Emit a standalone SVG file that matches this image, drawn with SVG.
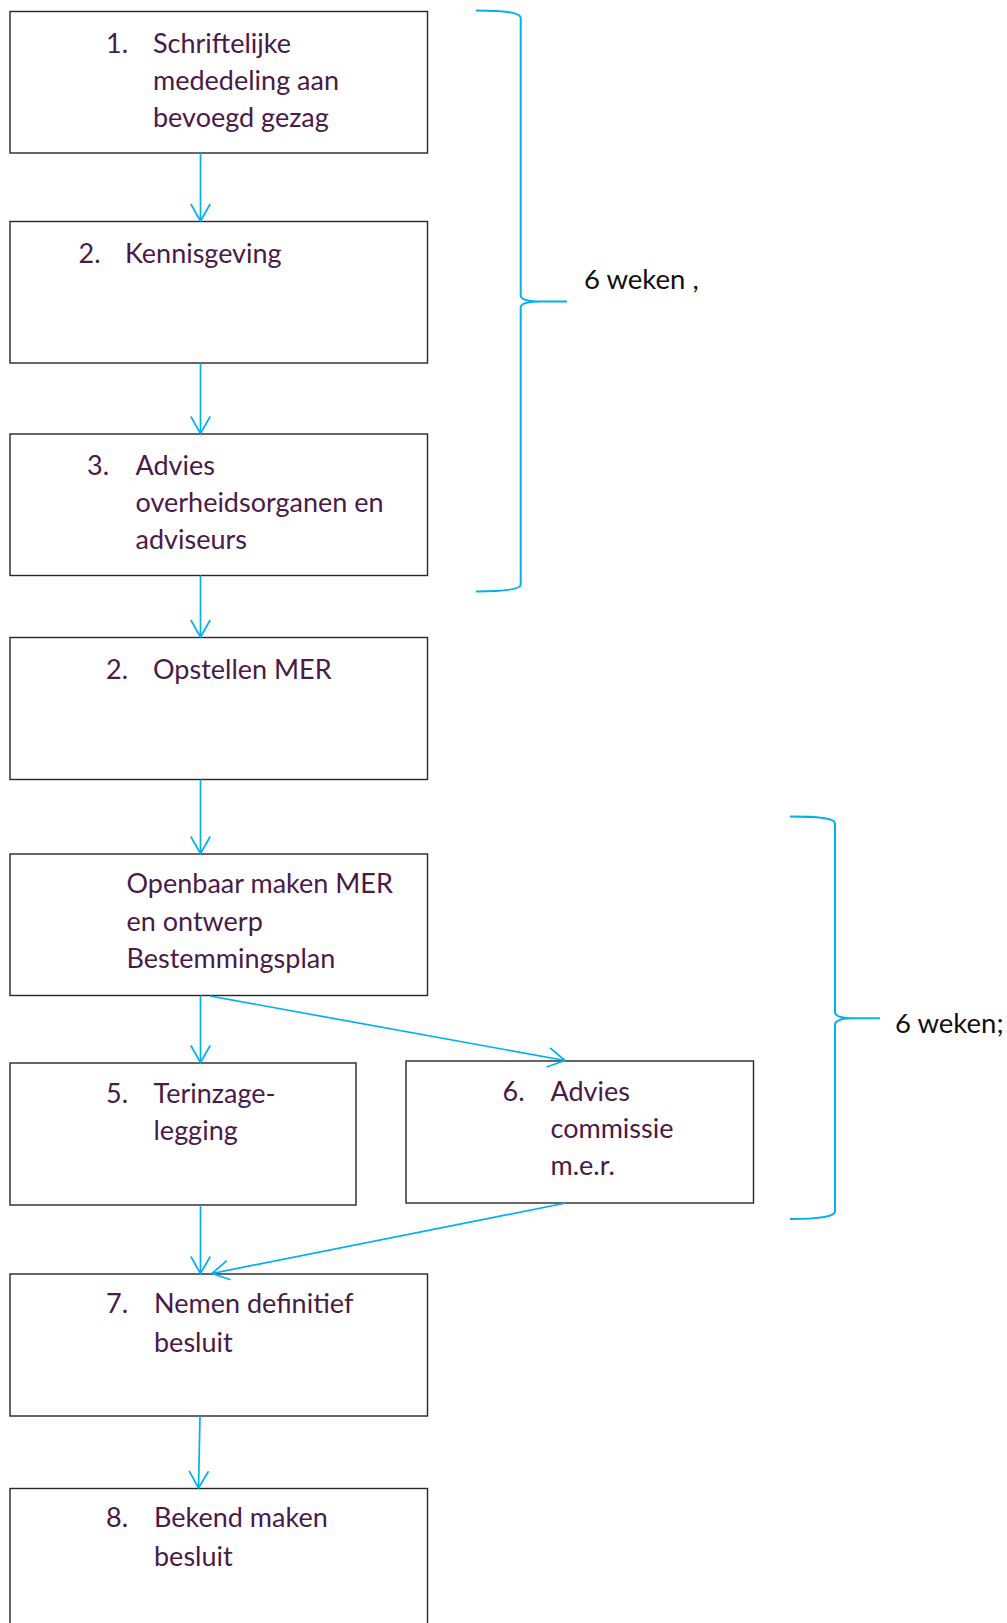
<svg xmlns="http://www.w3.org/2000/svg" width="1007" height="1623" viewBox="0 0 1007 1623">
<style>
.box{fill:#fff;stroke:#262626;stroke-width:1.4}
.t{font-family:Lato,"Open Sans",sans-serif;font-size:27px;fill:#4a1a48}
.lbl{font-family:Lato,"Open Sans",sans-serif;font-size:27.5px;fill:#111}
.c{fill:none;stroke:#00B0F0;stroke-width:1.7}
.br{fill:none;stroke:#00B0F0;stroke-width:2}
</style>
<defs>
<marker id="ah" markerUnits="userSpaceOnUse" viewBox="-20 -12 22 24" markerWidth="22" markerHeight="24" refX="0" refY="0" orient="auto" overflow="visible">
<path d="M-17,-9.7 L0,0 L-17,9.7" fill="none" stroke="#00B0F0" stroke-width="1.7"/>
</marker>
</defs>
<rect width="1007" height="1623" fill="#fff"/>

<g id="n1"><rect class="box" x="10" y="11.5" width="417.5" height="141.5"/>
<text class="t" x="106" y="53">1.</text><text class="t" x="153" y="53">Schriftelijke</text>
<text class="t" x="153" y="90">mededeling aan</text><text class="t" x="153" y="127">bevoegd gezag</text></g>

<g id="n2"><rect class="box" x="10" y="221.5" width="417.5" height="141.5"/>
<text class="t" x="78.5" y="263">2.</text><text class="t" x="125" y="263">Kennisgeving</text></g>

<g id="n3"><rect class="box" x="10" y="434" width="417.5" height="141.5"/>
<text class="t" x="87" y="475">3.</text><text class="t" x="135.5" y="475">Advies</text>
<text class="t" x="135.5" y="512">overheidsorganen en</text><text class="t" x="135.5" y="549">adviseurs</text></g>

<g id="n4"><rect class="box" x="10" y="637.5" width="417.5" height="142"/>
<text class="t" x="106" y="678.5">2.</text><text class="t" x="153" y="678.5">Opstellen MER</text></g>

<g id="n5"><rect class="box" x="10" y="854" width="417.5" height="141.5"/>
<text class="t" x="126.5" y="893">Openbaar maken MER</text>
<text class="t" x="126.5" y="930.5">en ontwerp</text><text class="t" x="126.5" y="968">Bestemmingsplan</text></g>

<g id="n5b"><rect class="box" x="10" y="1063" width="346" height="142"/>
<text class="t" x="106" y="1102.5">5.</text><text class="t" x="153.5" y="1102.5">Terinzage-</text>
<text class="t" x="153.5" y="1140">legging</text></g>

<g id="n6"><rect class="box" x="406" y="1061" width="347.5" height="142"/>
<text class="t" x="502.5" y="1101">6.</text><text class="t" x="550.5" y="1101">Advies</text>
<text class="t" x="550.5" y="1138">commissie</text><text class="t" x="550.5" y="1175">m.e.r.</text></g>

<g id="n7"><rect class="box" x="10" y="1274" width="417.5" height="142"/>
<text class="t" x="106" y="1313">7.</text><text class="t" x="154" y="1313">Nemen definitief</text>
<text class="t" x="154" y="1351.5">besluit</text></g>

<g id="n8"><rect class="box" x="10" y="1488.5" width="417.5" height="160"/>
<text class="t" x="106" y="1527">8.</text><text class="t" x="154" y="1527">Bekend maken</text>
<text class="t" x="154" y="1565.5">besluit</text></g>

<g id="connectors">
<line class="c" x1="200.5" y1="153" x2="200.5" y2="221" marker-end="url(#ah)"/>
<line class="c" x1="200.5" y1="363" x2="200.5" y2="433.5" marker-end="url(#ah)"/>
<line class="c" x1="200.5" y1="575.5" x2="200.5" y2="637" marker-end="url(#ah)"/>
<line class="c" x1="200.5" y1="779.5" x2="200.5" y2="853.5" marker-end="url(#ah)"/>
<line class="c" x1="200.5" y1="995.5" x2="200.5" y2="1062.5" marker-end="url(#ah)"/>
<line class="c" x1="210" y1="996" x2="565" y2="1060.5" marker-end="url(#ah)"/>
<line class="c" x1="200.5" y1="1205" x2="200.5" y2="1273.5" marker-end="url(#ah)"/>
<line class="c" x1="566" y1="1203" x2="212" y2="1273.5" marker-end="url(#ah)"/>
<line class="c" x1="200" y1="1416" x2="198.5" y2="1488" marker-end="url(#ah)"/>
</g>

<g id="brace1">
<path class="br" d="M476,10.5 C505,10.5 520.7,12.5 520.7,18 V295.5 C520.7,299.5 527,301.5 541,301.5 H567 M541,301.5 C527,301.5 520.7,303.5 520.7,307.5 V584.5 C520.7,589.5 505,591.5 476,591.5"/>
<text class="lbl" x="584" y="289">6 weken ,</text>
</g>

<g id="brace2">
<path class="br" d="M790,816.5 C818,816.5 835,818 835,823.5 V1012 C835,1016 841,1018.3 854,1018.3 H880 M854,1018.3 C841,1018.3 835,1020.5 835,1025 V1211.5 C835,1216.5 818,1219 790,1219"/>
<text class="lbl" x="895" y="1033">6 weken;</text>
</g>
</svg>
